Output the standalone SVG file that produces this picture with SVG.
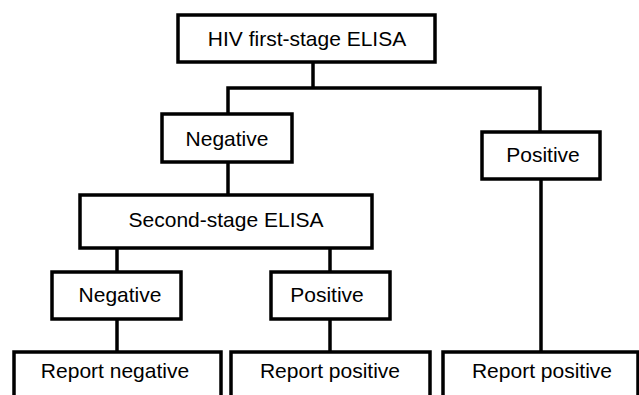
<svg xmlns="http://www.w3.org/2000/svg" width="639" height="395" viewBox="0 0 639 395">
<style>
.box{fill:#fff;stroke:#000;stroke-width:3.5}
.ln{fill:none;stroke:#000;stroke-width:3.5;stroke-linejoin:miter}
text{font-family:"Liberation Sans",Arial,sans-serif;font-size:21px;fill:#000;text-anchor:middle}
</style>
<rect width="639" height="395" fill="#fff"/>
<g id="connectors">
<path class="ln" d="M313,62 V88"/>
<path class="ln" d="M228,114 V88 H540 V132"/>
<path class="ln" d="M228,162 V195"/>
<path class="ln" d="M117,248 V272"/>
<path class="ln" d="M330,248 V272"/>
<path class="ln" d="M117,319 V352"/>
<path class="ln" d="M330,319 V352"/>
<path class="ln" d="M541,179 V352"/>
</g>
<g id="n-hiv"><rect class="box" x="178" y="15" width="257" height="47"/><text x="307" y="46">HIV first-stage ELISA</text></g>
<g id="n-neg1"><rect class="box" x="162" y="114" width="130" height="48"/><text x="227" y="146">Negative</text></g>
<g id="n-pos1"><rect class="box" x="482" y="132" width="118" height="47"/><text x="543" y="162">Positive</text></g>
<g id="n-second"><rect class="box" x="80" y="195" width="292" height="53"/><text x="226" y="227">Second-stage ELISA</text></g>
<g id="n-neg2"><rect class="box" x="52" y="272" width="129" height="47"/><text x="120" y="302">Negative</text></g>
<g id="n-pos2"><rect class="box" x="271" y="272" width="119" height="47"/><text x="327" y="302">Positive</text></g>
<g id="n-repneg"><rect class="box" x="14" y="352" width="207" height="60"/><text x="115" y="378">Report negative</text></g>
<g id="n-reppos1"><rect class="box" x="231" y="352" width="199" height="60"/><text x="330" y="378">Report positive</text></g>
<g id="n-reppos2"><rect class="box" x="443" y="352" width="195" height="60"/><text x="542" y="378">Report positive</text></g>
</svg>
